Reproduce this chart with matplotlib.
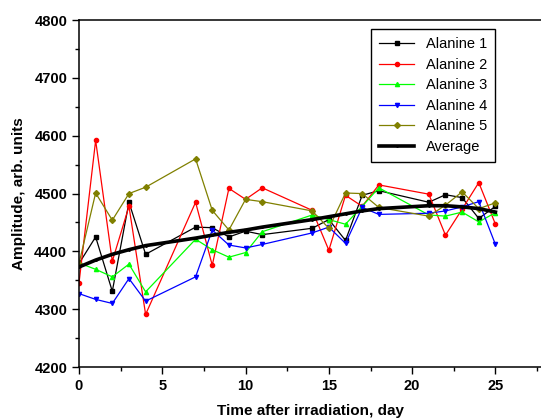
import matplotlib
matplotlib.use("Agg")
import matplotlib.pyplot as plt
from matplotlib.ticker import MultipleLocator

# days after irradiation
days = [0, 1, 2, 3, 4, 7, 8, 9, 10, 11, 14, 15, 16, 17, 18, 21, 22, 23, 24, 25]

# amplitudes
alanine1 = [4379, 4425, 4331, 4485, 4395, 4442, 4441, 4425, 4435, 4429,
            4440, 4455, 4419, 4497, 4505, 4485, 4498, 4493, 4457, 4478]
alanine2 = [4345, 4592, 4383, 4478, 4291, 4485, 4376, 4509, 4490, 4510,
            4471, 4402, 4497, 4478, 4515, 4499, 4428, 4473, 4519, 4447]
alanine3 = [4380, 4369, 4356, 4378, 4330, 4421, 4403, 4390, 4398, 4434,
            4463, 4455, 4447, 4478, 4510, 4463, 4461, 4468, 4451, 4467]
alanine4 = [4327, 4317, 4310, 4353, 4314, 4356, 4437, 4411, 4406, 4412,
            4432, 4442, 4414, 4476, 4464, 4466, 4470, 4477, 4486, 4412]
alanine5 = [4379, 4501, 4454, 4500, 4511, 4560, 4471, 4437, 4490, 4486,
            4470, 4440, 4501, 4500, 4476, 4461, 4480, 4503, 4474, 4484]
average = [4373, 4385, 4395, 4403, 4410, 4423, 4428, 4433, 4437, 4442,
           4455, 4460, 4465, 4470, 4474, 4479, 4479, 4477, 4474, 4468]

plt.rcParams['font.family'] = ['Liberation Sans', 'DejaVu Sans']

fig = plt.figure(figsize=(5.41, 4.19), dpi=100)
ax = fig.add_axes([0.146, 0.124, 0.856, 0.828])

# each series: data, colour, marker, label
series = [
    (alanine1, 'black', 's', 'Alanine 1'),
    (alanine2, 'red', 'o', 'Alanine 2'),
    (alanine3, '#00ff00', '^', 'Alanine 3'),
    (alanine4, 'blue', 'v', 'Alanine 4'),
    (alanine5, '#808000', 'D', 'Alanine 5'),
]
for vals, col, mk, lab in series:
    ax.plot(days, vals, color=col, marker=mk, markersize=3, linewidth=0.9, label=lab)

ax.plot(days, average, color='black', linewidth=2.6, marker='.', markersize=2,
        label='Average')

ax.set_xlim(0, 27.8)
ax.set_ylim(4200, 4800)
ax.xaxis.set_major_locator(MultipleLocator(5))
ax.xaxis.set_minor_locator(MultipleLocator(2.5))
ax.yaxis.set_major_locator(MultipleLocator(100))
ax.yaxis.set_minor_locator(MultipleLocator(50))
ax.tick_params(which='major', direction='out', length=5, width=1, labelsize=10.5)
ax.tick_params(which='minor', direction='out', length=3, width=1)
for lbl in ax.get_xticklabels() + ax.get_yticklabels():
    lbl.set_fontweight('bold')
for sp in ax.spines.values():
    sp.set_linewidth(1.1)

ax.set_xlabel('Time after irradiation, day', fontsize=11, fontweight='bold', labelpad=8)
ax.set_ylabel('Amplitude, arb. units', fontsize=11, fontweight='bold', labelpad=6)

leg = ax.legend(loc='upper left', bbox_to_anchor=(0.615, 0.995), fontsize=10.5,
                frameon=True, fancybox=False, edgecolor='black', framealpha=1,
                handlelength=2.4, borderpad=0.55, labelspacing=0.45)
leg.get_frame().set_linewidth(1)

fig.savefig('out.png', dpi=100)
